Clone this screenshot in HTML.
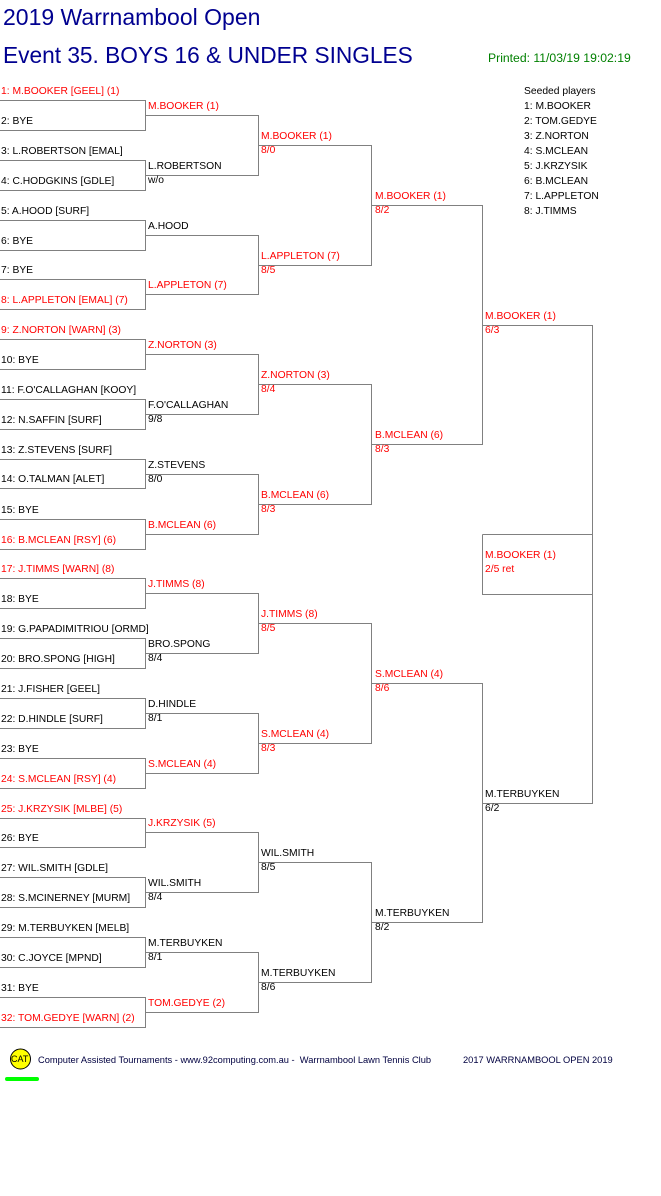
<!DOCTYPE html>
<html><head><meta charset="utf-8"><style>
body{margin:0;background:#fff;width:661px;height:1196px;position:relative;overflow:hidden;font-family:"Liberation Sans",Arial,sans-serif;}
div{position:absolute;white-space:nowrap;font-size:10.3px;line-height:14px;color:#000;}
.r{color:#f00;}
svg{position:absolute;left:0;top:0;}
</style></head><body>
<svg width="661" height="1196">
<g stroke="#808080" stroke-width="1" fill="none" shape-rendering="crispEdges">
<path d="M0 100.5H145.5V130.5H0M0 160.5H145.5V190.5H0M0 220.5H145.5V250.5H0M0 279.5H145.5V309.5H0M0 339.5H145.5V369.5H0M0 399.5H145.5V429.5H0M0 459.5H145.5V488.5H0M0 519.5H145.5V549.5H0M0 578.5H145.5V608.5H0M0 638.5H145.5V668.5H0M0 698.5H145.5V728.5H0M0 758.5H145.5V788.5H0M0 818.5H145.5V847.5H0M0 877.5H145.5V907.5H0M0 937.5H145.5V967.5H0M0 997.5H145.5V1027.5H0"/>
<path d="M145 115.5H258.5V175.5H145M145 235.5H258.5V294.5H145M145 354.5H258.5V414.5H145M145 474.5H258.5V534.5H145M145 593.5H258.5V653.5H145M145 713.5H258.5V773.5H145M145 832.5H258.5V892.5H145M145 952.5H258.5V1012.5H145"/>
<path d="M258 145.5H371.5V265.5H258M258 384.5H371.5V504.5H258M258 623.5H371.5V743.5H258M258 862.5H371.5V982.5H258"/>
<path d="M371 205.5H482.5V444.5H371M371 683.5H482.5V922.5H371"/>
<path d="M482 325.5H592.5V803.5H482"/>
<path d="M482.5 534.5H592.5M482.5 534.5V594.5H592.5"/>
</g>
<circle cx="20.5" cy="1059" r="10" fill="#ffff00" stroke="#000" stroke-width="1"/>
<rect x="5" y="1077" width="34" height="4" rx="2" fill="#00ff00"/>
</svg>
<div style="left:3px;top:3px;font-size:23px;line-height:28px;color:#000090">2019 Warrnambool Open</div>
<div style="left:3px;top:41px;font-size:22.7px;line-height:28px;color:#000090">Event 35. BOYS 16 &amp; UNDER SINGLES</div>
<div style="left:488px;top:51px;font-size:12.2px;color:#008000">Printed: 11/03/19 19:02:19</div>
<div style="left:524px;top:85px">Seeded players</div>
<div style="left:524px;top:100px">1: M.BOOKER</div>
<div style="left:524px;top:115px">2: TOM.GEDYE</div>
<div style="left:524px;top:130px">3: Z.NORTON</div>
<div style="left:524px;top:145px">4: S.MCLEAN</div>
<div style="left:524px;top:160px">5: J.KRZYSIK</div>
<div style="left:524px;top:175px">6: B.MCLEAN</div>
<div style="left:524px;top:190px">7: L.APPLETON</div>
<div style="left:524px;top:205px">8: J.TIMMS</div>

<div class="r" style="left:1px;top:85px">1: M.BOOKER [GEEL] (1)</div>
<div style="left:1px;top:115px">2: BYE</div>
<div style="left:1px;top:145px">3: L.ROBERTSON [EMAL]</div>
<div style="left:1px;top:175px">4: C.HODGKINS [GDLE]</div>
<div style="left:1px;top:205px">5: A.HOOD [SURF]</div>
<div style="left:1px;top:235px">6: BYE</div>
<div style="left:1px;top:264px">7: BYE</div>
<div class="r" style="left:1px;top:294px">8: L.APPLETON [EMAL] (7)</div>
<div class="r" style="left:1px;top:324px">9: Z.NORTON [WARN] (3)</div>
<div style="left:1px;top:354px">10: BYE</div>
<div style="left:1px;top:384px">11: F.O'CALLAGHAN [KOOY]</div>
<div style="left:1px;top:414px">12: N.SAFFIN [SURF]</div>
<div style="left:1px;top:444px">13: Z.STEVENS [SURF]</div>
<div style="left:1px;top:473px">14: O.TALMAN [ALET]</div>
<div style="left:1px;top:504px">15: BYE</div>
<div class="r" style="left:1px;top:534px">16: B.MCLEAN [RSY] (6)</div>
<div class="r" style="left:1px;top:563px">17: J.TIMMS [WARN] (8)</div>
<div style="left:1px;top:593px">18: BYE</div>
<div style="left:1px;top:623px">19: G.PAPADIMITRIOU [ORMD]</div>
<div style="left:1px;top:653px">20: BRO.SPONG [HIGH]</div>
<div style="left:1px;top:683px">21: J.FISHER [GEEL]</div>
<div style="left:1px;top:713px">22: D.HINDLE [SURF]</div>
<div style="left:1px;top:743px">23: BYE</div>
<div class="r" style="left:1px;top:773px">24: S.MCLEAN [RSY] (4)</div>
<div class="r" style="left:1px;top:803px">25: J.KRZYSIK [MLBE] (5)</div>
<div style="left:1px;top:832px">26: BYE</div>
<div style="left:1px;top:862px">27: WIL.SMITH [GDLE]</div>
<div style="left:1px;top:892px">28: S.MCINERNEY [MURM]</div>
<div style="left:1px;top:922px">29: M.TERBUYKEN [MELB]</div>
<div style="left:1px;top:952px">30: C.JOYCE [MPND]</div>
<div style="left:1px;top:982px">31: BYE</div>
<div class="r" style="left:1px;top:1012px">32: TOM.GEDYE [WARN] (2)</div>

<div class="r" style="left:148px;top:100px">M.BOOKER (1)</div>
<div style="left:148px;top:160px">L.ROBERTSON</div><div style="left:148px;top:174px">w/o</div>
<div style="left:148px;top:220px">A.HOOD</div>
<div class="r" style="left:148px;top:279px">L.APPLETON (7)</div>
<div class="r" style="left:148px;top:339px">Z.NORTON (3)</div>
<div style="left:148px;top:399px">F.O'CALLAGHAN</div><div style="left:148px;top:413px">9/8</div>
<div style="left:148px;top:459px">Z.STEVENS</div><div style="left:148px;top:473px">8/0</div>
<div class="r" style="left:148px;top:519px">B.MCLEAN (6)</div>
<div class="r" style="left:148px;top:578px">J.TIMMS (8)</div>
<div style="left:148px;top:638px">BRO.SPONG</div><div style="left:148px;top:652px">8/4</div>
<div style="left:148px;top:698px">D.HINDLE</div><div style="left:148px;top:712px">8/1</div>
<div class="r" style="left:148px;top:758px">S.MCLEAN (4)</div>
<div class="r" style="left:148px;top:817px">J.KRZYSIK (5)</div>
<div style="left:148px;top:877px">WIL.SMITH</div><div style="left:148px;top:891px">8/4</div>
<div style="left:148px;top:937px">M.TERBUYKEN</div><div style="left:148px;top:951px">8/1</div>
<div class="r" style="left:148px;top:997px">TOM.GEDYE (2)</div>

<div class="r" style="left:261px;top:130px">M.BOOKER (1)</div><div class="r" style="left:261px;top:144px">8/0</div>
<div class="r" style="left:261px;top:250px">L.APPLETON (7)</div><div class="r" style="left:261px;top:264px">8/5</div>
<div class="r" style="left:261px;top:369px">Z.NORTON (3)</div><div class="r" style="left:261px;top:383px">8/4</div>
<div class="r" style="left:261px;top:489px">B.MCLEAN (6)</div><div class="r" style="left:261px;top:503px">8/3</div>
<div class="r" style="left:261px;top:608px">J.TIMMS (8)</div><div class="r" style="left:261px;top:622px">8/5</div>
<div class="r" style="left:261px;top:728px">S.MCLEAN (4)</div><div class="r" style="left:261px;top:742px">8/3</div>
<div style="left:261px;top:847px">WIL.SMITH</div><div style="left:261px;top:861px">8/5</div>
<div style="left:261px;top:967px">M.TERBUYKEN</div><div style="left:261px;top:981px">8/6</div>

<div class="r" style="left:375px;top:190px">M.BOOKER (1)</div><div class="r" style="left:375px;top:204px">8/2</div>
<div class="r" style="left:375px;top:429px">B.MCLEAN (6)</div><div class="r" style="left:375px;top:443px">8/3</div>
<div class="r" style="left:375px;top:668px">S.MCLEAN (4)</div><div class="r" style="left:375px;top:682px">8/6</div>
<div style="left:375px;top:907px">M.TERBUYKEN</div><div style="left:375px;top:921px">8/2</div>

<div class="r" style="left:485px;top:310px">M.BOOKER (1)</div><div class="r" style="left:485px;top:324px">6/3</div>
<div style="left:485px;top:788px">M.TERBUYKEN</div><div style="left:485px;top:802px">6/2</div>
<div class="r" style="left:485px;top:549px">M.BOOKER (1)</div><div class="r" style="left:485px;top:563px">2/5 ret</div>

<div style="left:11px;top:1053px;font-size:9px;line-height:12px">CAT</div>
<div style="left:38px;top:1054px;font-size:9.3px;line-height:12px;color:#000040">Computer Assisted Tournaments - www.92computing.com.au -&nbsp; Warrnambool Lawn Tennis Club</div>
<div style="left:463px;top:1054px;font-size:9.3px;line-height:12px;color:#000040">2017 WARRNAMBOOL OPEN 2019</div>
</body></html>
